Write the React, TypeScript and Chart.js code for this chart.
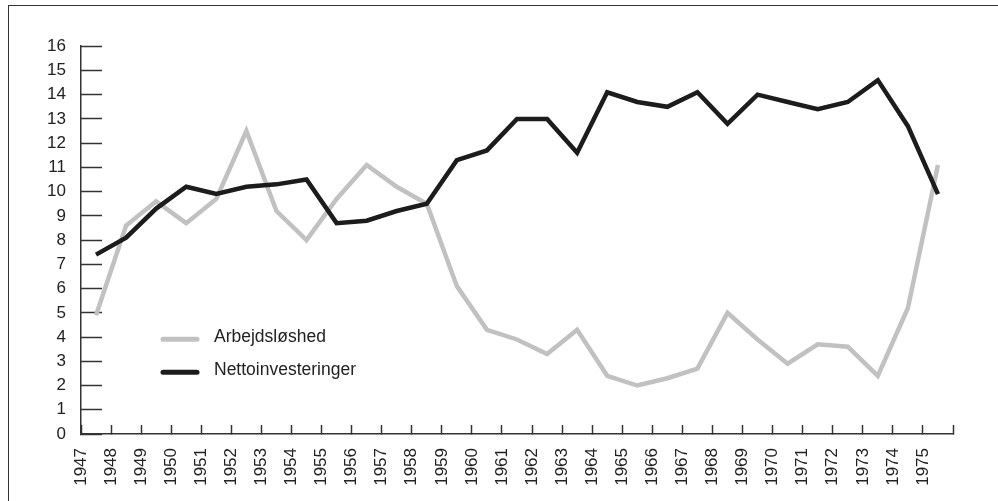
import React, { useEffect, useRef } from "react";
import { Chart, registerables } from "chart.js";

Chart.register(...registerables);

const years = [
  "1947", "1948", "1949", "1950", "1951", "1952", "1953", "1954", "1955", "1956",
  "1957", "1958", "1959", "1960", "1961", "1962", "1963", "1964", "1965", "1966",
  "1967", "1968", "1969", "1970", "1971", "1972", "1973", "1974", "1975",
];

const arbejdsloshed = [
  4.9, 8.6, 9.6, 8.7, 9.7, 12.5, 9.2, 8.0, 9.7, 11.1,
  10.2, 9.5, 6.1, 4.3, 3.9, 3.3, 4.3, 2.4, 2.0, 2.3,
  2.7, 5.0, 3.9, 2.9, 3.7, 3.6, 2.4, 5.2, 11.1,
];

const nettoinvesteringer = [
  7.4, 8.1, 9.3, 10.2, 9.9, 10.2, 10.3, 10.5, 8.7, 8.8,
  9.2, 9.5, 11.3, 11.7, 13.0, 13.0, 11.6, 14.1, 13.7, 13.5,
  14.1, 12.8, 14.0, 13.7, 13.4, 13.7, 14.6, 12.7, 9.9,
];

const seriesNames = ["Arbejdsløshed", "Nettoinvesteringer"];

const GRAY = "#c1c1c3";
const BLACK = "#1c1c1c";
const AXIS = "#333333";
const TEXT = "#222222";
const FONT = "'Liberation Sans', Arial, Helvetica, sans-serif";

const legendPlugin = {
  id: "innerLegend",
  afterDraw(chart: any) {
    const { ctx, chartArea } = chart;
    const items = [
      { label: seriesNames[0], color: GRAY, dy: 293 },
      { label: seriesNames[1], color: BLACK, dy: 326 },
    ];
    ctx.save();
    items.forEach((it) => {
      const y = chartArea.top + it.dy;
      const x0 = chartArea.left + 82;
      ctx.beginPath();
      ctx.strokeStyle = it.color;
      ctx.lineWidth = 5;
      ctx.lineCap = "round";
      ctx.moveTo(x0, y);
      ctx.lineTo(x0 + 34, y);
      ctx.stroke();
      ctx.fillStyle = TEXT;
      ctx.font = `17.5px ${FONT}`;
      ctx.textAlign = "left";
      ctx.textBaseline = "middle";
      ctx.fillText(it.label, x0 + 51, y - 2);
    });
    ctx.restore();
  },
};

export default function App() {
  const ref = useRef<HTMLCanvasElement | null>(null);

  useEffect(() => {
    if (!ref.current) return;
    const chart = new Chart(ref.current, {
      type: "line",
      data: {
        labels: years,
        datasets: [
          {
            label: seriesNames[0],
            data: arbejdsloshed,
            borderColor: GRAY,
            backgroundColor: GRAY,
            borderWidth: 4.5,
            pointRadius: 0,
            tension: 0,
            borderJoinStyle: "miter",
            order: 1,
          },
          {
            label: seriesNames[1],
            data: nettoinvesteringer,
            borderColor: BLACK,
            backgroundColor: BLACK,
            borderWidth: 4.5,
            pointRadius: 0,
            tension: 0,
            borderJoinStyle: "miter",
            order: 0,
          },
        ],
      },
      options: {
        animation: false,
        responsive: false,
        maintainAspectRatio: false,
        layout: { padding: { left: 41, top: 43, right: 45, bottom: 7 } },
        plugins: {
          legend: { display: false },
          tooltip: { enabled: false },
          title: { display: false },
        },
        scales: {
          x: {
            type: "category",
            offset: true,
            afterFit: (s: any) => {
              s.height = 60;
            },
            grid: {
              offset: true,
              drawOnChartArea: false,
              drawTicks: true,
              tickLength: -9,
              tickWidth: 1.5,
              tickColor: AXIS,
              color: AXIS,
            },
            border: { display: true, color: AXIS, width: 1.5 },
            ticks: {
              autoSkip: false,
              maxRotation: 90,
              minRotation: 90,
              labelOffset: -15,
              padding: 23,
              color: TEXT,
              font: { family: FONT, size: 17 },
            },
          },
          y: {
            min: 0,
            max: 16,
            afterFit: (s: any) => {
              s.width = 40;
            },
            grid: {
              drawOnChartArea: false,
              drawTicks: true,
              tickLength: -21,
              tickWidth: 1.5,
              tickColor: AXIS,
              color: AXIS,
            },
            border: { display: true, color: AXIS, width: 1.5 },
            ticks: {
              stepSize: 1,
              padding: 36,
              color: TEXT,
              font: { family: FONT, size: 17 },
            },
          },
        },
      },
      plugins: [legendPlugin],
    });
    return () => chart.destroy();
  }, []);

  return (
    <>
      <div
        style={{
          position: "fixed",
          left: 0,
          top: 0,
          width: 998,
          height: 501,
          background: "#ffffff",
        }}
      >
        <canvas ref={ref} width={998} height={501} style={{ display: "block" }} />
      </div>
      <div
        style={{
          position: "fixed",
          left: 8,
          top: 5,
          width: 2000,
          height: 2000,
          borderLeft: `1.5px solid ${AXIS}`,
          borderTop: `1.5px solid ${AXIS}`,
          pointerEvents: "none",
        }}
      />
    </>
  );
}
